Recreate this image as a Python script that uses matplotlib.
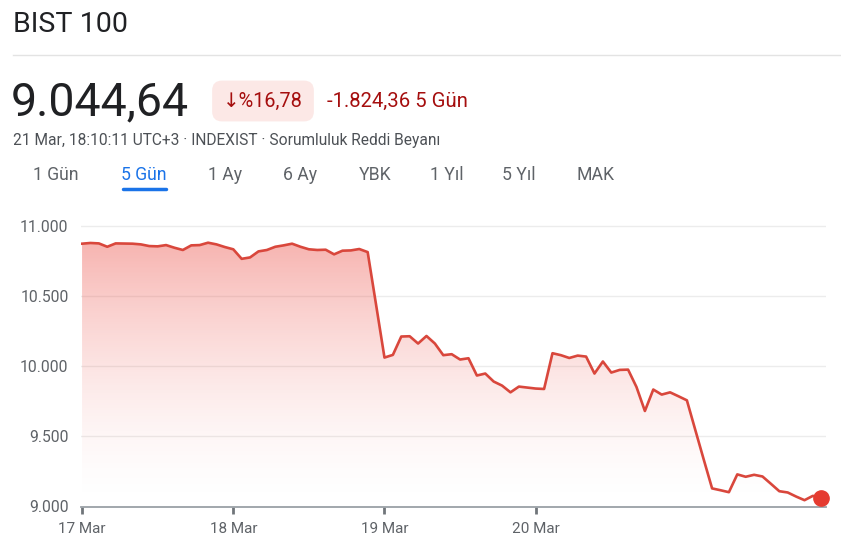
import numpy as np
import matplotlib
matplotlib.use("Agg")
import matplotlib.pyplot as plt

plt.rcParams['font.family'] = ['Roboto', 'DejaVu Sans']

# BIST 100, 5 gunluk seri (yarim saatlik noktalar, gunde 18 adim)
values = [10874, 10879, 10876, 10852, 10876, 10875, 10874, 10869, 10857, 10855,
          10864, 10845, 10829, 10862, 10864, 10881, 10869, 10850, 10834, 10766,
          10776, 10819, 10829, 10852, 10862, 10874, 10852, 10834, 10829, 10831,
          10798, 10824, 10826, 10836, 10814, 10439, 10062, 10081, 10212, 10214,
          10162, 10216, 10162, 10079, 10086, 10048, 10057, 9934, 9948, 9891,
          9862, 9814, 9855, 9848, 9841, 9838, 10093, 10079, 10059, 10076,
          10069, 9948, 10034, 9955, 9974, 9976, 9852, 9681, 9834, 9798,
          9814, 9786, 9757, 9546, 9336, 9129, 9116, 9102, 9229, 9212,
          9226, 9214, 9162, 9109, 9100, 9071, 9045, 9076, 9060]
steps_per_day = 18
day_labels = ['17 Mar', '18 Mar', '19 Mar', '20 Mar']
y_ticks = [9000, 9500, 10000, 10500, 11000]
y_labels = ['9.000', '9.500', '10.000', '10.500', '11.000']
tabs = ['1 Gün', '5 Gün', '1 Ay', '6 Ay', 'YBK', '1 Yıl', '5 Yıl', 'MAK']
tab_x = [56, 144, 225, 300, 375, 447, 519, 596]
selected_tab = '5 Gün'

title = 'BIST 100'
price = '9.044,64'
change_pct = '↓%16,78'
change_abs = '-1.824,36 5 Gün'
subtitle = '21 Mar, 18:10:11 UTC+3 · INDEXIST · Sorumluluk Reddi Beyanı'

W, H = 841, 556
red = '#d9473c'
dark_red = '#a50e0e'

def fx(p):
    return p / W

def fy(p):
    return 1 - p / H

fig = plt.figure(figsize=(W / 100, H / 100), dpi=100)
fig.patch.set_facecolor('white')

# ust kisim
fig.text(fx(13), fy(24), title, fontsize=20.5, color='#202124', va='center', ha='left')
fig.add_artist(plt.Line2D([fx(13), 1], [fy(55), fy(55)], color='#e3e3e3', lw=1))
fig.text(fx(11), fy(102), price, fontsize=33.5, color='#202124', va='center', ha='left')
fig.text(fx(263), fy(101), change_pct, fontsize=14.3, color=dark_red, va='center', ha='center',
         bbox=dict(boxstyle='round,pad=0.55,rounding_size=0.5', fc='#fce8e6', ec='none'))
fig.text(fx(327), fy(101), change_abs, fontsize=14.6, color=dark_red, va='center', ha='left')
fig.text(fx(13), fy(141), subtitle, fontsize=11.2, color='#4d5156', va='center', ha='left')

for lab, px in zip(tabs, tab_x):
    col = '#1a73e8' if lab == selected_tab else '#5f6368'
    fig.text(fx(px), fy(175), lab, fontsize=12.7, color=col, va='center', ha='center')
fig.add_artist(plt.Line2D([fx(123), fx(166)], [fy(189), fy(189)], color='#1a73e8',
                          lw=2.5, solid_capstyle='round'))

# grafik
left, right = 81, 826
top, bottom = 219, 506.5
ax = fig.add_axes([fx(left), fy(bottom), fx(right - left), (bottom - top) / H])

x = np.arange(len(values)) / steps_per_day
y = np.array(values)
ymin, ymax = 9000, 11000 + 7 * 7.143
ax.set_xlim(-0.007, 4.92)
ax.set_ylim(ymin, ymax)

# gradyan dolgu
grad = np.linspace(0, 1, 256)[:, None]
alpha = 0.44 * grad ** 1.6
rgba = np.zeros((256, 1, 4))
rgba[..., 0] = 0.93
rgba[..., 1] = 0.33
rgba[..., 2] = 0.30
rgba[..., 3] = alpha
img = ax.imshow(rgba, extent=[x[0], x[-1], ymin, y.max()], origin='lower',
                aspect='auto', zorder=1, interpolation='bilinear')
poly = ax.fill_between(x, y, ymin, color='none', lw=0)
img.set_clip_path(poly.get_paths()[0], transform=ax.transData)

ax.plot(x, y, color=red, lw=1.9, zorder=3, solid_joinstyle='round')
ax.plot(x[-1], y[-1], 'o', color='#e53b30', ms=11, zorder=4, clip_on=False)

for t in y_ticks[1:]:
    ax.axhline(t, color='#ececec', lw=1, zorder=0.5)

for s in ['top', 'right', 'left']:
    ax.spines[s].set_visible(False)
ax.spines['bottom'].set_color('#9aa0a6')
ax.spines['bottom'].set_linewidth(1.3)

ax.set_yticks(y_ticks)
ax.set_yticklabels(y_labels)
ax.tick_params(axis='y', length=0, pad=9, labelsize=11.3, labelcolor='#5f6368')
ax.set_xticks(np.arange(len(day_labels)))
ax.set_xticklabels(day_labels)
ax.tick_params(axis='x', length=5, width=2, color='#70757a', pad=6,
               labelsize=11, labelcolor='#5f6368')

fig.savefig('out.png', dpi=100, facecolor='white')
